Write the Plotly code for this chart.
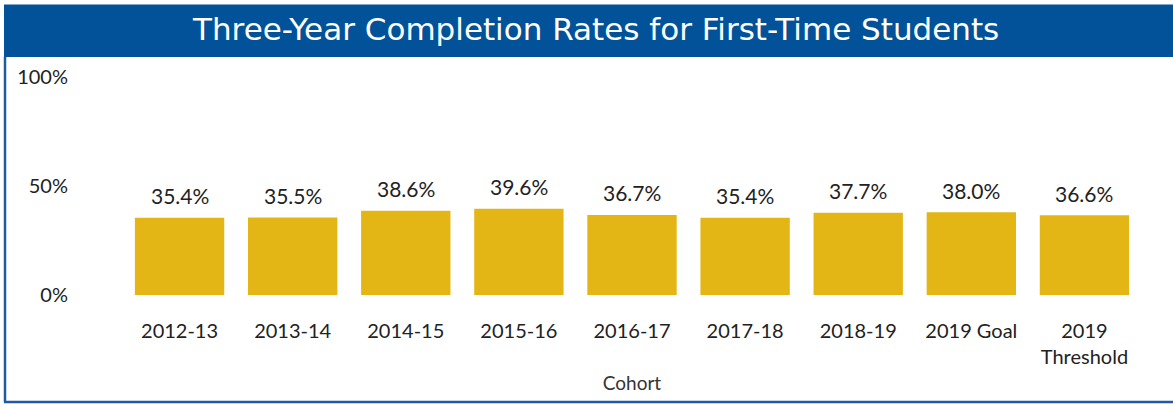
import plotly.graph_objects as go

cohorts = ["2012-13", "2013-14", "2014-15", "2015-16", "2016-17", "2017-18",
           "2018-19", "2019 Goal", "2019<br>Threshold"]
rates = [0.354, 0.355, 0.386, 0.396, 0.367, 0.354, 0.377, 0.380, 0.366]
y_ticks = [0, 0.5, 1.0]
y_tick_labels = ["0%", "50%", "100%"]

BAR = "#E4B615"
BLUE = "#02529A"
FONT = "Lato, 'Open Sans', sans-serif"

W, H = 1173, 404
ml, mr, mt, mb = 123, 32, 60, 109
pw, ph = W - ml - mr, H - mt - mb

def px_x(p):
    return (p - ml) / pw

def px_y(p):
    return (H - mb - p) / ph

fig = go.Figure()
fig.add_trace(go.Bar(x=cohorts, y=rates, marker=dict(color=BAR, line=dict(width=0)),
                     hoverinfo="skip"))

for c, v in zip(cohorts, rates):
    fig.add_annotation(x=c, y=v, text=f"{v*100:.1f}%", showarrow=False,
                       yanchor="middle", yshift=22,
                       font=dict(family=FONT, size=21, color="#222222"))

shapes = [
    dict(type="rect", xref="paper", yref="paper", x0=px_x(4), x1=px_x(W + 5),
         y0=px_y(57), y1=px_y(4.5), fillcolor=BLUE, line=dict(width=0), layer="below"),
    dict(type="line", xref="paper", yref="paper", x0=px_x(5), x1=px_x(5),
         y0=px_y(57), y1=px_y(402), line=dict(color="#1D5BA4", width=2.5)),
    dict(type="line", xref="paper", yref="paper", x0=px_x(4), x1=px_x(W + 5),
         y0=px_y(402), y1=px_y(402), line=dict(color="#1D5BA4", width=2.5)),
]

fig.update_layout(
    width=W, height=H,
    margin=dict(l=ml, r=mr, t=mt, b=mb, pad=0),
    paper_bgcolor="white", plot_bgcolor="white",
    bargap=0.21, showlegend=False,
    shapes=shapes,
    font=dict(family=FONT, color="#222222"),
    xaxis=dict(range=[-0.5, 8.5], showgrid=False, showline=False, zeroline=False,
               ticks="", tickfont=dict(size=20, family=FONT, color="#222222"),
               ticklabelstandoff=22,
               title=dict(text="Cohort", font=dict(size=19, family=FONT, color="#333333"),
                          standoff=9)),
    yaxis=dict(range=[0, (H - mb - mt) / 218], tickvals=y_ticks, ticktext=y_tick_labels,
               showgrid=False, showline=False, zeroline=False, ticks="",
               tickfont=dict(size=20, family=FONT, color="#222222"),
               ticklabelstandoff=54),
)

fig.add_annotation(xref="paper", yref="paper", x=px_x(595), y=px_y(29),
                   text="Three-Year Completion Rates for First-Time Students",
                   showarrow=False, xanchor="center", yanchor="middle",
                   font=dict(family="DejaVu Sans, sans-serif", size=31, color="white"))

fig.write_html("out.html", config={"displayModeBar": False},
               post_script="document.body.style.margin='0px';")
